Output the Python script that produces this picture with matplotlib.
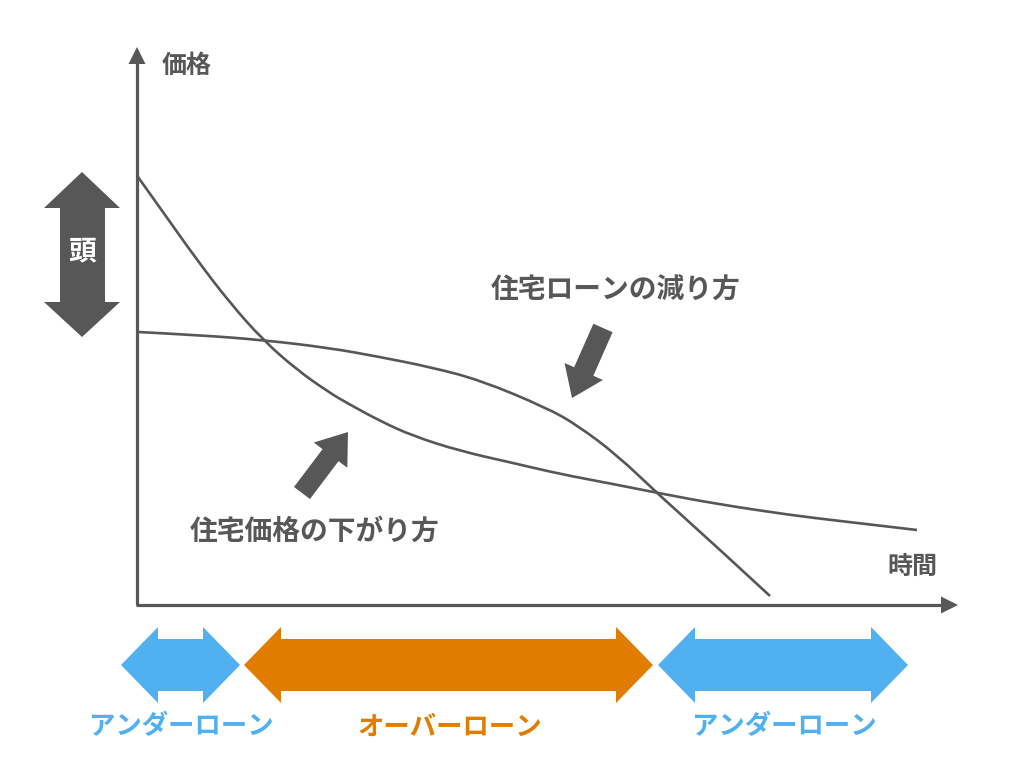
import matplotlib
matplotlib.use("Agg")
import matplotlib.pyplot as plt
from matplotlib.patches import FancyArrow, Polygon, PathPatch
from matplotlib.path import Path

plt.rcParams['font.family'] = ['Noto Sans CJK JP', 'DejaVu Sans']

# ---- data (in pixel-like units; y grows downward) ----
price_x = [138, 163, 197, 230, 263, 297, 330, 347, 380, 413, 460, 513, 560, 613, 658, 717, 790, 840, 917]
price_y = [177, 212, 260, 303, 340, 370, 393, 403, 421, 436, 451, 463, 474, 484, 493, 504, 515, 521, 530]

loan_x = [138, 197, 263, 330, 380, 430, 480, 547, 577, 617, 658, 717, 770]
loan_y = [332, 335, 340, 348, 357, 367, 380, 408, 425, 455, 494, 547, 596]

period_labels = ['アンダーローン', 'オーバーローン', 'アンダーローン']
period_start = [121, 244, 658]
period_end = [240, 653, 908]

axis_y_label = '価格'
axis_x_label = '時間'
price_label = '住宅価格の下がり方'
loan_label = '住宅ローンの減り方'
head_label = '頭'

GRAY = '#575757'
BLUE = '#50B0F0'
ORANGE = '#E07D00'
period_colors = [BLUE, ORANGE, BLUE]

fig = plt.figure(figsize=(10.24, 7.83), dpi=100)
ax = fig.add_axes([0, 0, 1, 1])
ax.set_xlim(0, 1024)
ax.set_ylim(783, 0)
ax.axis('off')


def smooth_path(xs, ys):
    pts = list(zip(xs, ys))
    verts = [pts[0]]
    codes = [Path.MOVETO]
    for i in range(1, len(pts) - 1):
        if i == len(pts) - 2:
            end = pts[-1]
        else:
            end = ((pts[i][0] + pts[i + 1][0]) / 2, (pts[i][1] + pts[i + 1][1]) / 2)
        verts += [pts[i], end]
        codes += [Path.CURVE3, Path.CURVE3]
    return Path(verts, codes)


# axes with arrowheads
ax.plot([137, 137], [605, 62], color=GRAY, lw=2.3, solid_capstyle='butt')
ax.add_patch(Polygon([[137, 47], [128.5, 64], [145.5, 64]], closed=True, color=GRAY, lw=0))
ax.plot([136, 942], [605, 605], color=GRAY, lw=2.3, solid_capstyle='butt')
ax.add_patch(Polygon([[958, 605], [941, 596.5], [941, 613.5]], closed=True, color=GRAY, lw=0))

# curves
ax.add_patch(PathPatch(smooth_path(price_x, price_y), fill=False, edgecolor=GRAY, lw=1.9))
ax.add_patch(PathPatch(smooth_path(loan_x, loan_y), fill=False, edgecolor=GRAY, lw=1.9))

# axis labels
ax.text(187, 66, axis_y_label, fontsize=18, fontweight='bold', color=GRAY, ha='center', va='center')
ax.text(912, 567, axis_x_label, fontsize=18, fontweight='bold', color=GRAY, ha='center', va='center')

# pointer arrows
ax.add_patch(FancyArrow(603, 328, 572 - 603, 398 - 328, width=21, head_width=42, head_length=29,
                        length_includes_head=True, color=GRAY, lw=0))
ax.add_patch(FancyArrow(302, 493, 348 - 302, 432 - 493, width=20, head_width=42, head_length=29,
                        length_includes_head=True, color=GRAY, lw=0))
ax.text(616, 291, loan_label, fontsize=20, fontweight='bold', color=GRAY, ha='center', va='center')
ax.text(315, 532, price_label, fontsize=20, fontweight='bold', color=GRAY, ha='center', va='center')

# head double arrow
ax.add_patch(Polygon([[82, 172], [44, 208], [60, 208], [60, 302], [44, 302], [82, 337],
                      [120, 302], [105, 302], [105, 208], [120, 208]], closed=True, color=GRAY, lw=0))
ax.text(82, 251, head_label, fontsize=20, fontweight='bold', color='white', ha='center', va='center')

# period double arrows
cy = 665
for s, e, c, lab in zip(period_start, period_end, period_colors, period_labels):
    hl = 37
    ax.add_patch(Polygon([[s, cy], [s + hl, cy - 38], [s + hl, cy - 26], [e - hl, cy - 26],
                          [e - hl, cy - 38], [e, cy], [e - hl, cy + 38], [e - hl, cy + 26],
                          [s + hl, cy + 26], [s + hl, cy + 38]], closed=True, color=c, lw=0))
    ax.text((s + e) / 2 + 1, 727, lab, fontsize=19, fontweight='bold', color=c, ha='center', va='center')

fig.savefig('out.png', dpi=100)
